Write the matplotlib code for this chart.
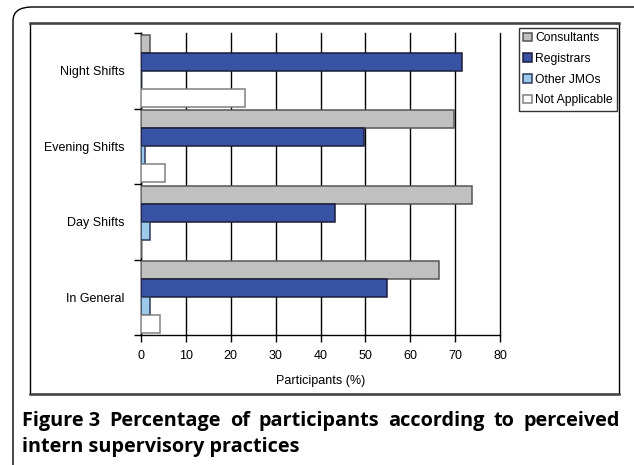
import matplotlib
matplotlib.use('Agg')
import matplotlib.pyplot as plt
from matplotlib.patches import Rectangle, FancyBboxPatch
from matplotlib.lines import Line2D
import numpy as np

# --- DATA ---
categories = ['In General', 'Day Shifts', 'Evening Shifts', 'Night Shifts']
series = ['Consultants', 'Registrars', 'Other JMOs', 'Not Applicable']
consultants = [66.4, 73.8, 69.7, 2.1]
registrars = [54.8, 43.2, 49.6, 71.6]
other_jmos = [2.1, 2.1, 1.0, 0.0]
not_applicable = [4.3, 0.0, 5.3, 23.2]
x_ticks = [0, 10, 20, 30, 40, 50, 60, 70, 80]
x_label = 'Participants (%)'
caption_bold = 'Figure 3'
caption_line1 = 'Percentage of participants according to perceived'
caption_line2 = 'intern supervisory practices'

# --- STYLE ---
COLORS = ['#c0c0c0', '#3953a4', '#9dc9ea', '#ffffff']
EDGES = ['#555555', '#1c1c3c', '#2a3a5a', '#808080']
W, H = 634, 465

plt.rcParams['font.family'] = ['Liberation Sans', 'DejaVu Sans']

fig = plt.figure(figsize=(W / 100, H / 100), dpi=100)
ax = fig.add_axes([141 / W, 1 - 335 / H, (500 - 141) / W, (335 - 33) / H])

values = [consultants, registrars, other_jmos, not_applicable]
bar_h = 0.24
offsets = [1.5 * bar_h, 0.5 * bar_h, -0.5 * bar_h, -1.5 * bar_h]
y = np.arange(len(categories))
for vals, off, c, ec, lab in zip(values, offsets, COLORS, EDGES, series):
    ax.barh(y + off, vals, height=bar_h, color=c, edgecolor=ec, linewidth=1.1,
            label=lab, zorder=3)

ax.set_xlim(0, 80)
ax.set_ylim(-0.5, 3.5)
ax.set_xticks(x_ticks)
ax.set_yticks(y)
ax.set_yticklabels(categories)
ax.set_yticks(np.arange(-0.5, 4.0, 1.0), minor=True)
ax.tick_params(axis='y', which='major', length=0, pad=12, labelsize=9)
ax.tick_params(axis='y', which='minor', length=5, width=1, direction='out')
ax.tick_params(axis='x', length=5, width=1, direction='out', pad=6, labelsize=9)
ax.set_xlabel(x_label, fontsize=9, labelpad=9)
ax.grid(axis='x', color='black', linewidth=1, zorder=0)
ax.set_axisbelow(True)
for gl in ax.xaxis.get_gridlines():
    gl.set_clip_on(False)
for s in ['top', 'right']:
    ax.spines[s].set_visible(False)
for s in ['left', 'bottom']:
    ax.spines[s].set_color('black')
    ax.spines[s].set_linewidth(1)

leg = ax.legend(loc='upper left', bbox_to_anchor=(519 / W, 1 - 28 / H),
                bbox_transform=fig.transFigure, fontsize=8.7, frameon=True,
                fancybox=False, edgecolor='black', handlelength=0.7,
                handleheight=0.7, handletextpad=0.3, labelspacing=0.72,
                borderpad=0.35, borderaxespad=0)
leg.get_frame().set_linewidth(1)

# chart frame
fig.add_artist(Rectangle((30 / W, 1 - 394 / H), (619 - 30) / W, (394 - 23) / H,
                         transform=fig.transFigure, fill=False,
                         edgecolor='black', linewidth=1))
fig.add_artist(Line2D([30 / W, 619 / W], [1 - 23 / H, 1 - 23 / H],
                      transform=fig.transFigure, color='#444444', linewidth=1.8))
fig.add_artist(Line2D([30 / W, 619 / W], [1 - 394 / H, 1 - 394 / H],
                      transform=fig.transFigure, color='#444444', linewidth=1.8))

# outer rounded panel
fig.add_artist(FancyBboxPatch((13 / W, -20 / H), (660 - 13) / W, (458 + 20) / H,
                              boxstyle='round,pad=0,rounding_size=0.03',
                              transform=fig.transFigure, fill=False,
                              edgecolor='black', linewidth=1))

# caption, first line justified
cap_font = dict(family=['Open Sans', 'DejaVu Sans'], weight='bold', fontsize=14.3)
left, right, base1, base2 = 22 / W, 620 / W, 1 - 426 / H, 1 - 452 / H
renderer = fig.canvas.get_renderer()
words = [caption_bold] + caption_line1.split()
texts = [fig.text(0, base1, w, va='baseline', ha='left', **cap_font) for w in words]
widths = [t.get_window_extent(renderer).width / W for t in texts]
gap = max((right - left - sum(widths)) / (len(words) - 1), 3 / W)
xpos = left
for t, w in zip(texts, widths):
    t.set_x(xpos)
    xpos += w + gap
fig.text(left, base2, caption_line2, va='baseline', ha='left', **cap_font)

fig.savefig('out.png', dpi=100)
